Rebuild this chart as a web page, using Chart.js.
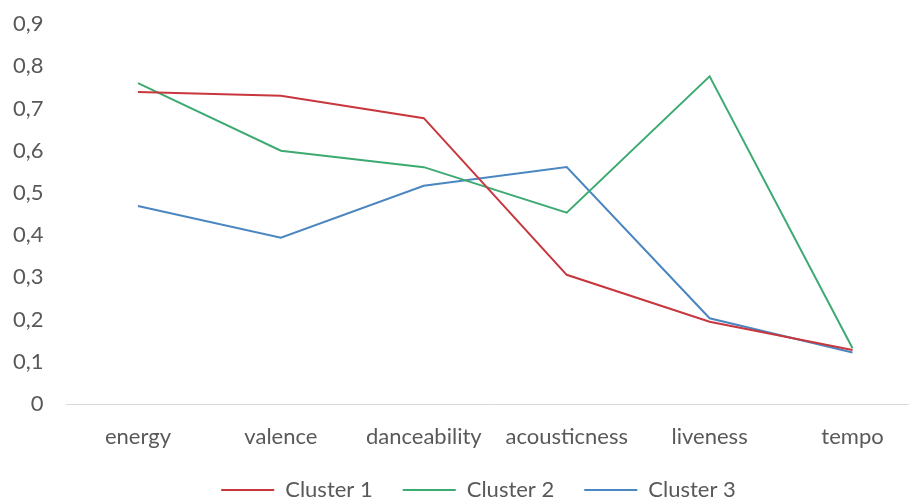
<!DOCTYPE html>
<html>
<head>
<meta charset="utf-8">
<script src="https://cdn.jsdelivr.net/npm/chart.js@4.4.1/dist/chart.umd.min.js"></script>
<style>
  html, body { margin: 0; padding: 0; background: #fff; overflow: hidden; }
  #frame { width: 909px; height: 499px; overflow: hidden; position: relative; }
  #chart { display: block; }
</style>
</head>
<body>
<div id="frame">
  <canvas id="chart" width="957" height="511"></canvas>
</div>
<script>
const categories = ['energy', 'valence', 'danceability', 'acousticness', 'liveness', 'tempo'];
const cluster1 = [0.739, 0.730, 0.677, 0.306, 0.195, 0.128];
const cluster2 = [0.760, 0.600, 0.561, 0.453, 0.776, 0.132];
const cluster3 = [0.469, 0.394, 0.517, 0.561, 0.203, 0.122];
const seriesNames = ['Cluster 1', 'Cluster 2', 'Cluster 3'];
const colors = ['#C8373E', '#3DAA72', '#4A86C0'];

const textColor = '#595959';
const font = { family: 'Lato', size: 22 };

// the original legend is centred on a wider frame than the plot, nudge its box
const legendBox = {
    id: 'legendBox',
    afterLayout(chart) {
        chart.legend.left = 33;
        chart.legend.right = chart.chartArea.right;
    }
};

const ctx = document.getElementById('chart').getContext('2d');
new Chart(ctx, {
    type: 'line',
    data: {
        labels: categories,
        datasets: [cluster1, cluster2, cluster3].map((d, i) => ({
            label: seriesNames[i],
            data: d,
            borderColor: colors[i],
            backgroundColor: colors[i],
            borderWidth: 2,
            pointRadius: 0,
            tension: 0,
            fill: false
        }))
    },
    plugins: [legendBox],
    options: {
        responsive: false,
        animation: false,
        layout: { padding: { top: 24, right: 33, left: 0, bottom: 0 } },
        plugins: {
            tooltip: { enabled: false },
            legend: {
                position: 'bottom',
                labels: {
                    color: textColor,
                    font: font,
                    boxWidth: 53,
                    boxHeight: 2,
                    padding: 30,
                    generateLabels(chart) {
                        return Chart.defaults.plugins.legend.labels.generateLabels(chart)
                            .map(l => ({ ...l, lineWidth: 0 }));
                    }
                }
            }
        },
        scales: {
            x: {
                offset: true,
                grid: { display: false, drawTicks: false },
                border: { display: true, color: '#D9D9D9', width: 1 },
                ticks: { color: textColor, font: font, padding: 20, maxRotation: 0, autoSkip: false },
                afterFit: s => { s.height = 45; s.paddingLeft = 0; s.paddingRight = 0; }
            },
            y: {
                min: 0,
                max: 0.9,
                grid: { display: false, drawTicks: false },
                border: { display: false },
                ticks: {
                    stepSize: 0.1,
                    color: textColor,
                    font: font,
                    padding: 23,
                    callback: v => v === 0 ? '0' : Number(v).toFixed(1).replace('.', ',')
                },
                afterFit: s => { s.width = 66.5; s.paddingTop = 0; s.paddingBottom = 0; }
            }
        }
    }
});
</script>
</body>
</html>
